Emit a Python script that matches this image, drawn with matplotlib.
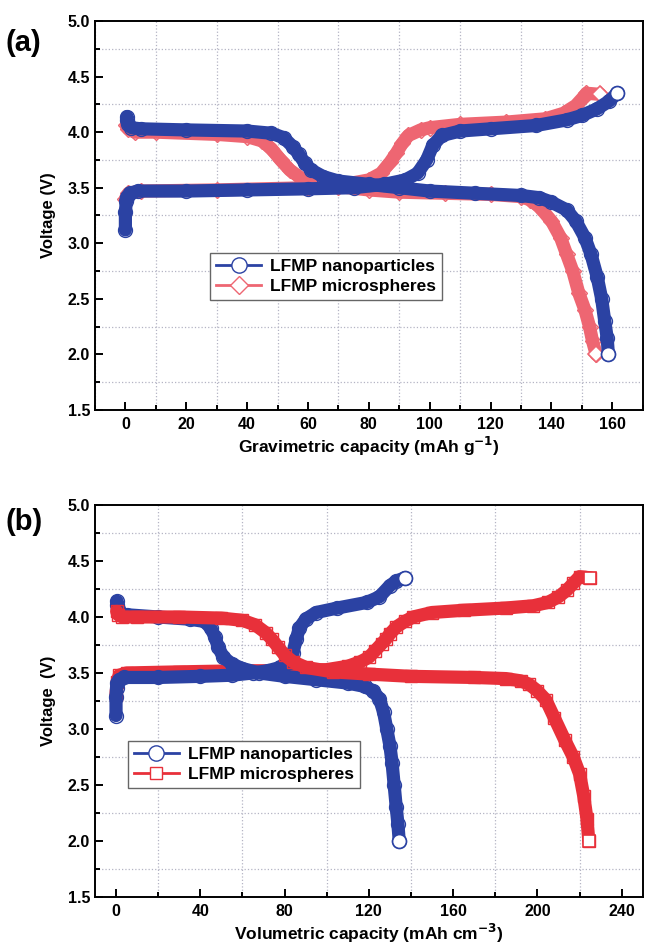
import matplotlib
matplotlib.use("Agg")
import matplotlib.pyplot as plt
from matplotlib.ticker import MultipleLocator
from matplotlib.lines import Line2D

plt.rcParams['font.family'] = ['Liberation Sans', 'DejaVu Sans']
plt.rcParams['font.weight'] = 'bold'

# Panel (a): gravimetric capacity (mAh/g) vs voltage
nano_g_chg_x = [0, 0, 0.3, 0.6, 1.5, 4, 20, 40, 60, 75, 85, 92, 96, 99, 101, 104, 110, 120, 135, 145, 150, 155, 159, 161.5]
nano_g_chg_v = [3.12, 3.28, 3.38, 3.42, 3.45, 3.47, 3.47, 3.48, 3.49, 3.5, 3.53, 3.57, 3.63, 3.75, 3.88, 3.97, 4.01, 4.03, 4.06, 4.11, 4.15, 4.21, 4.28, 4.35]
nano_g_dis_x = [0.5, 0.5, 1, 2, 5, 20, 40, 48, 52, 55, 57, 59, 61, 65, 70, 80, 90, 100, 115, 130, 136, 140, 145, 148, 151, 153, 155, 156.5, 157.5, 158.3, 158.7]
nano_g_dis_v = [4.14, 4.11, 4.07, 4.04, 4.03, 4.02, 4.01, 3.99, 3.95, 3.87, 3.8, 3.72, 3.66, 3.6, 3.56, 3.53, 3.5, 3.47, 3.45, 3.43, 3.41, 3.37, 3.3, 3.2, 3.05, 2.9, 2.7, 2.5, 2.3, 2.15, 2.0]
micro_g_chg_x = [0, 1, 5, 30, 60, 72, 80, 84, 87, 89, 91, 93, 97, 100, 110, 125, 138, 144, 148, 150, 151.5, 156]
micro_g_chg_v = [3.4, 3.45, 3.47, 3.48, 3.5, 3.53, 3.57, 3.63, 3.73, 3.81, 3.9, 3.97, 4.02, 4.04, 4.07, 4.09, 4.12, 4.17, 4.24, 4.3, 4.35, 4.34]
micro_g_dis_x = [0.3, 1, 3, 10, 30, 40, 45, 48, 51, 54, 57, 60, 64, 70, 80, 90, 105, 120, 130, 133, 136, 140, 143, 145, 147, 149, 151, 152.5, 153.5, 154.7]
micro_g_dis_v = [4.06, 4.03, 4.0, 4.0, 3.98, 3.96, 3.92, 3.85, 3.75, 3.66, 3.6, 3.56, 3.53, 3.51, 3.48, 3.46, 3.45, 3.44, 3.42, 3.39, 3.33, 3.2, 3.05, 2.9, 2.75, 2.55, 2.4, 2.25, 2.12, 2.0]

# Panel (b): volumetric capacity (mAh/cm3) vs voltage
nano_v_chg_x = [0, 0, 0.3, 0.6, 1.5, 4, 20, 40, 55, 65, 72, 78, 82, 84, 85.5, 87, 90, 95, 105, 119, 125, 130, 133, 137]
nano_v_chg_v = [3.12, 3.29, 3.37, 3.41, 3.44, 3.46, 3.46, 3.47, 3.48, 3.5, 3.52, 3.55, 3.6, 3.68, 3.8, 3.9, 3.98, 4.04, 4.08, 4.13, 4.18, 4.28, 4.32, 4.35]
nano_v_dis_x = [0.5, 0.5, 1, 2, 5, 20, 35, 42, 45, 47, 48.5, 51, 55, 60, 68, 80, 95, 110, 118, 122, 125, 127, 128.5, 130, 131, 132, 133, 133.8, 134.4]
nano_v_dis_v = [4.14, 4.11, 4.07, 4.03, 4.02, 4.0, 3.98, 3.96, 3.9, 3.82, 3.73, 3.64, 3.58, 3.54, 3.5, 3.47, 3.44, 3.41, 3.38, 3.34, 3.27, 3.15, 3.0, 2.85, 2.7, 2.5, 2.3, 2.15, 2.0]
micro_v_chg_x = [0, 0.5, 1.5, 5, 30, 60, 85, 100, 110, 116, 120, 123, 126, 128, 130, 133, 137, 141, 150, 165, 185, 198, 205, 210, 214, 217, 220, 225]
micro_v_chg_v = [3.3, 3.42, 3.48, 3.5, 3.51, 3.52, 3.52, 3.53, 3.56, 3.6, 3.64, 3.7, 3.76, 3.8, 3.85, 3.91, 3.96, 4.0, 4.04, 4.06, 4.08, 4.1, 4.13, 4.18, 4.24, 4.3, 4.36, 4.35]
micro_v_dis_x = [0.3, 1, 3, 10, 30, 50, 60, 66, 71, 74, 77, 80, 84, 90, 103, 120, 140, 170, 185, 192, 196, 200, 204, 208, 213, 217, 220, 222, 223.5, 224.4]
micro_v_dis_v = [4.05, 4.02, 4.0, 4.0, 4.0, 3.99, 3.97, 3.93, 3.86, 3.8, 3.73, 3.66, 3.6, 3.55, 3.51, 3.49, 3.47, 3.46, 3.45, 3.43, 3.4, 3.34, 3.26, 3.1, 2.9, 2.75, 2.6, 2.4, 2.2, 2.0]

blue = '#2b42a3'
red_a = '#ee6672'
red_b = '#e8303a'


def draw_curve(ax, x, v, color, marker, ms):
    # dense open markers appear as a thick band in the original
    ax.plot(x, v, '-', color=color, lw=9.5, solid_capstyle='round', solid_joinstyle='round')
    ax.plot(x, v, ls='none', marker=marker, ms=ms, mfc='none', mec=color, mew=1)
    ax.plot(x[-1], v[-1], ls='none', marker=marker, ms=ms, mfc='white', mec=color, mew=1.2)


def style_axes(ax, xmaj, xmin, xlim, xlabel, ylabel):
    ax.set_xlim(*xlim)
    ax.set_ylim(1.5, 5.0)
    ax.xaxis.set_major_locator(MultipleLocator(xmaj))
    ax.xaxis.set_minor_locator(MultipleLocator(xmin))
    ax.yaxis.set_major_locator(MultipleLocator(0.5))
    ax.yaxis.set_minor_locator(MultipleLocator(0.25))
    ax.yaxis.set_major_formatter(matplotlib.ticker.FormatStrFormatter('%.1f'))
    ax.tick_params(which='both', direction='in', top=False, right=False, width=1.4, labelsize=11.5)
    ax.tick_params(which='major', length=6)
    ax.tick_params(which='minor', length=3.5)
    ax.tick_params(axis='x', pad=5)
    ax.grid(False, which='major')
    ax.grid(True, which='minor', ls=':', color='#b4b4c4', lw=0.9)
    for s in ax.spines.values():
        s.set_linewidth(1.4)
    ax.set_xlabel(xlabel, fontsize=12.5, fontweight='bold', labelpad=2)
    ax.set_ylabel(ylabel, fontsize=12, fontweight='bold', labelpad=8)


fig = plt.figure(figsize=(6.46, 9.46), dpi=100)
ax1 = fig.add_axes([0.147, 0.5666, 0.848, 0.4112])
ax2 = fig.add_axes([0.147, 0.0518, 0.848, 0.4144])

# (a)
draw_curve(ax1, micro_g_chg_x, micro_g_chg_v, red_a, 'D', 8.5)
draw_curve(ax1, micro_g_dis_x, micro_g_dis_v, red_a, 'D', 8.5)
draw_curve(ax1, nano_g_chg_x, nano_g_chg_v, blue, 'o', 10)
draw_curve(ax1, nano_g_dis_x, nano_g_dis_v, blue, 'o', 10)
style_axes(ax1, 20, 10, (-10, 170), 'Gravimetric capacity (mAh g$^{\\mathbf{-1}}$)', 'Voltage (V)')
h1 = [Line2D([], [], color=blue, lw=2, marker='o', ms=11, mfc='white', mec=blue),
      Line2D([], [], color=red_a, lw=2, marker='D', ms=9, mfc='white', mec=red_a)]
ax1.legend(h1, ['LFMP nanoparticles', 'LFMP microspheres'], loc='lower left',
           bbox_to_anchor=(0.21, 0.283), fancybox=False, edgecolor='#666666',
           framealpha=1, prop={'weight': 'bold', 'size': 12.5}, handlelength=2.6,
           borderpad=0.35, labelspacing=0.25, handletextpad=0.5, borderaxespad=0)

# (b)
draw_curve(ax2, micro_v_chg_x, micro_v_chg_v, red_b, 's', 9)
draw_curve(ax2, nano_v_chg_x, nano_v_chg_v, blue, 'o', 10)
draw_curve(ax2, nano_v_dis_x, nano_v_dis_v, blue, 'o', 10)
draw_curve(ax2, micro_v_dis_x, micro_v_dis_v, red_b, 's', 9)
style_axes(ax2, 40, 20, (-10, 250), 'Volumetric capacity (mAh cm$^{\\mathbf{-3}}$)', 'Voltage  (V)')
h2 = [Line2D([], [], color=blue, lw=2, marker='o', ms=11, mfc='white', mec=blue),
      Line2D([], [], color=red_b, lw=2, marker='s', ms=9, mfc='white', mec=red_b)]
ax2.legend(h2, ['LFMP nanoparticles', 'LFMP microspheres'], loc='lower left',
           bbox_to_anchor=(0.06, 0.278), fancybox=False, edgecolor='#666666',
           framealpha=1, prop={'weight': 'bold', 'size': 12.5}, handlelength=2.6,
           borderpad=0.35, labelspacing=0.25, handletextpad=0.5, borderaxespad=0)

fig.text(0.008, 0.955, '(a)', fontsize=21, fontweight='bold', va='center')
fig.text(0.008, 0.448, '(b)', fontsize=21, fontweight='bold', va='center')

fig.savefig('out.png', dpi=100)
